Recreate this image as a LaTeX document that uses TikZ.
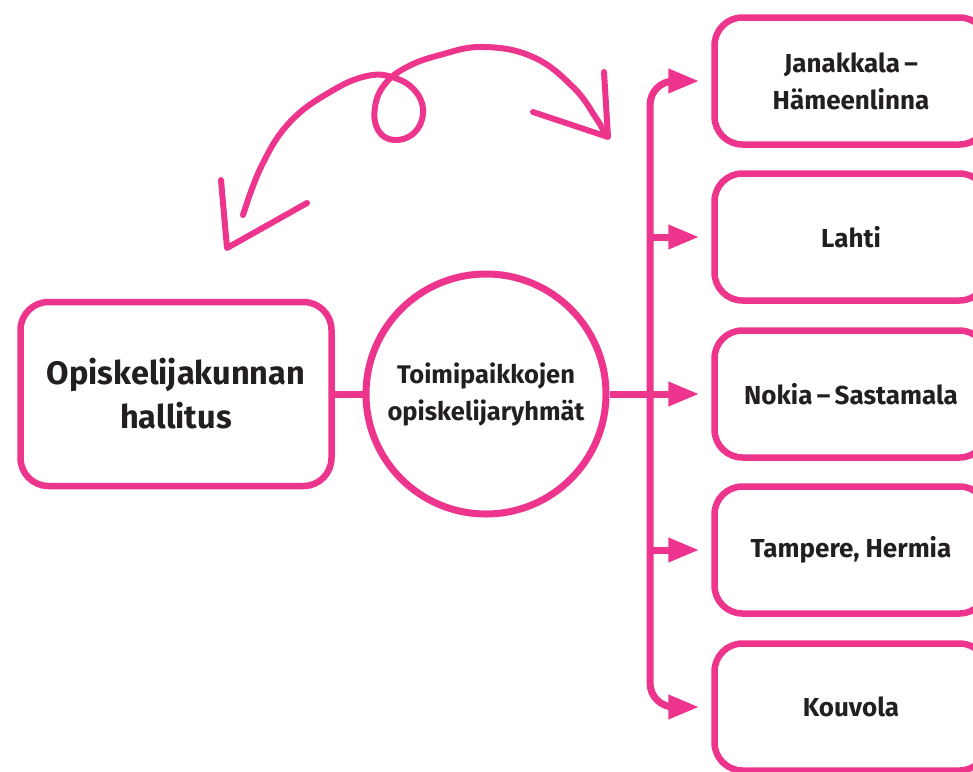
\documentclass[tikz,border=0pt]{standalone}
\usepackage{fontspec}
\setmainfont{Fira Sans}
\usepackage{tikz}
\usetikzlibrary{positioning, arrows.meta, calc}
\definecolor{brandpink}{RGB}{238,53,141}
\definecolor{inkdark}{RGB}{35,31,32}

\begin{document}
\begin{tikzpicture}[
    x=1pt, y=-1pt,
    every node/.style={text=inkdark, font=\bfseries},
    pinkbox/.style={draw=brandpink, line width=6.5pt, rounded corners=28pt, align=center, inner sep=0pt},
    hub/.style={draw=brandpink, line width=7pt, circle, minimum size=240pt, align=center, inner sep=0pt},
    site/.style={pinkbox, minimum width=273pt, minimum height=127pt, font=\bfseries\fontsize{26}{37}\selectfont},
    link/.style={draw=brandpink, line width=7pt},
    feed/.style={link, -{Triangle[length=31pt, width=23pt]}, shorten >=12pt},
    brush/.style={draw=brandpink, line width=6pt, line cap=round, line join=round}
]
    \useasboundingbox (0,0) rectangle (973,771);

    % Board and the local groups
    \node[pinkbox, minimum width=311pt, minimum height=184pt, font=\bfseries\fontsize{32.5}{44}\selectfont] (board) at (176,394) {Opiskelijakunnan\\hallitus};
    \node[hub, font=\bfseries\fontsize{25.5}{37}\selectfont] (groups) at (486,394) {Toimipaikkojen\\opiskelijaryhmät};

    % Locations on the right
    \node[site] (janakkala) at (851,81) {Janakkala\,–\\Hämeenlinna};
    \node[site] (lahti) at (851,237) {Lahti};
    \node[site] (nokia) at (851,394) {Nokia\,–\,Sastamala};
    \node[site] (tampere) at (851,550) {Tampere, Hermia};
    \node[site] (kouvola) at (851,707) {Kouvola};

    \coordinate (trunk) at (650,394);

    % Connections
    \draw[link] (board.east) -- (groups.west);
    \draw[feed] (groups.east) -- (nokia.west);
    \draw[feed, rounded corners=24pt] (trunk) |- (janakkala.west);
    \draw[feed, rounded corners=24pt] (trunk) |- (kouvola.west);
    \draw[feed] (trunk |- lahti.west) -- (lahti.west);
    \draw[feed] (trunk |- tampere.west) -- (tampere.west);

    % Hand-drawn loop arrow
    \draw[brush] plot[smooth, tension=0.7] coordinates {(243,215) (262,165) (290,122) (330,92) (367,76) (395,78) (416,92) (423,113) (414,133) (394,140) (378,130) (375,107) (385,84) (407,67) (440,55) (483,47) (533,57) (573,87) (596,118) (605,134)};
    \draw[brush] (221,180) -- (227,248) -- (307,203);
    \draw[brush] (604,72) -- (608,137) -- (533,112);
\end{tikzpicture}
\end{document}
